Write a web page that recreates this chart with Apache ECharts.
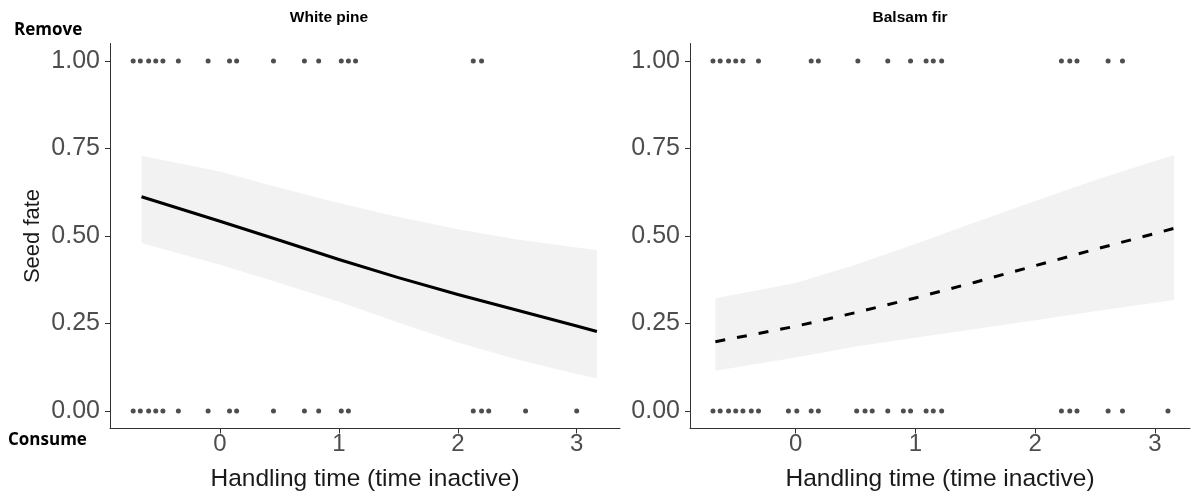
<!DOCTYPE html>
<html><head><meta charset="utf-8">
<script src="https://cdn.jsdelivr.net/npm/echarts@6/dist/echarts.min.js"></script>
<style>html,body{margin:0;padding:0;background:#fff}#c{width:1192px;height:497px}</style>
</head><body><div id="c"></div>
<script>
// ---- data ----
const panelTitles = ["White pine", "Balsam fir"];
const yTicks = [0, 0.25, 0.5, 0.75, 1];
const xTicks = [0, 1, 2, 3];

// White pine observations (x = handling time), fate 1 = remove, 0 = consume
const wpRemoveX = [-0.73, -0.67, -0.60, -0.54, -0.48, -0.35, -0.10, 0.08, 0.14, 0.45, 0.71, 0.83, 1.02, 1.08, 1.14, 2.13, 2.20];
const wpConsumeX = [-0.73, -0.67, -0.60, -0.54, -0.48, -0.35, -0.10, 0.08, 0.14, 0.45, 0.71, 0.83, 1.02, 1.08, 2.13, 2.20, 2.26, 2.57, 3.00];
// White pine fitted curve and confidence band
const wpCurveX = [-0.66, 0, 0.5, 1, 1.5, 2, 2.5, 3, 3.17];
const wpFit = [0.612, 0.542, 0.488, 0.433, 0.381, 0.333, 0.288, 0.243, 0.227];
const wpUpper = [0.729, 0.684, 0.638, 0.594, 0.554, 0.519, 0.490, 0.467, 0.460];
const wpLower = [0.480, 0.418, 0.366, 0.312, 0.253, 0.196, 0.147, 0.106, 0.093];

// Balsam fir observations
const bfRemoveX = [-0.69, -0.63, -0.56, -0.50, -0.44, -0.31, 0.13, 0.19, 0.52, 0.77, 0.96, 1.09, 1.15, 1.22, 2.22, 2.29, 2.35, 2.61, 2.73];
const bfConsumeX = [-0.69, -0.63, -0.56, -0.50, -0.44, -0.37, -0.31, -0.06, 0.01, 0.13, 0.19, 0.51, 0.58, 0.64, 0.77, 0.90, 0.96, 1.09, 1.15, 1.22, 2.22, 2.29, 2.35, 2.61, 2.73, 3.11];
const bfCurveX = [-0.67, 0, 0.5, 1, 1.5, 2, 2.5, 3, 3.16];
const bfFit = [0.198, 0.242, 0.281, 0.323, 0.368, 0.415, 0.462, 0.507, 0.522];
const bfUpper = [0.322, 0.366, 0.418, 0.477, 0.539, 0.600, 0.659, 0.714, 0.731];
const bfLower = [0.115, 0.153, 0.184, 0.209, 0.234, 0.259, 0.285, 0.309, 0.317];

// ---- build chart ----
const pts = (xs, y) => xs.map(x => [x, y]);
const zip = (xs, ys) => xs.map((x, i) => [x, ys[i]]);

const TICK_COLOR = '#4d4d4d';
const AXIS_COLOR = '#333333';
const FONT = '"Liberation Sans", Arial, sans-serif';
const LABEL_FONT = '"Open Sans", Lato, sans-serif';

function xAxis(gi, min, max) {
  return {
    type: 'value', gridIndex: gi, min: min, max: max,
    name: 'Handling time (time inactive)', nameLocation: 'middle', nameGap: 38,
    nameTextStyle: { fontFamily: FONT, fontSize: 24.5, color: '#1a1a1a' },
    axisLine: { onZero: false, lineStyle: { color: AXIS_COLOR, width: 1 } },
    axisTick: { length: 5, customValues: xTicks, lineStyle: { color: AXIS_COLOR } },
    axisLabel: { customValues: xTicks, fontFamily: FONT, fontSize: 24, color: TICK_COLOR, margin: 4 },
    splitLine: { show: false }
  };
}
function yAxis(gi, withName) {
  return {
    type: 'value', gridIndex: gi, min: -0.05, max: 1.05,
    name: withName ? 'Seed fate' : '', nameLocation: 'middle', nameGap: 66, nameRotate: 90,
    nameTextStyle: { fontFamily: FONT, fontSize: 22, color: '#1a1a1a' },
    axisLine: { onZero: false, lineStyle: { color: AXIS_COLOR, width: 1 } },
    axisTick: { length: 5, customValues: yTicks, lineStyle: { color: AXIS_COLOR } },
    axisLabel: { customValues: yTicks, fontFamily: FONT, fontSize: 25, color: TICK_COLOR, margin: 10,
      formatter: v => v.toFixed(2) },
    splitLine: { show: false }
  };
}

function bandSeries(gi, cx, lo, hi) {
  return {
    type: 'custom', xAxisIndex: gi, yAxisIndex: gi, silent: true, z: 1,
    data: zip(cx, lo),
    encode: { x: 0, y: 1 },
    renderItem: function (params, api) {
      if (params.dataIndex !== 0) return null;
      const poly = [];
      for (let i = 0; i < cx.length; i++) poly.push(api.coord([cx[i], hi[i]]));
      for (let i = cx.length - 1; i >= 0; i--) poly.push(api.coord([cx[i], lo[i]]));
      return { type: 'polygon', shape: { points: poly }, style: { fill: '#f2f2f2' } };
    }
  };
}

function panelSeries(gi, cx, lo, hi, fit, remX, conX, dashed) {
  return [
    bandSeries(gi, cx, lo, hi),
    { type: 'line', xAxisIndex: gi, yAxisIndex: gi, data: zip(cx, fit), smooth: false,
      symbol: 'none', lineStyle: { color: '#000', width: 3, type: dashed ? [10, 12] : 'solid', join: 'round' }, z: 3 },
    { type: 'scatter', xAxisIndex: gi, yAxisIndex: gi, data: pts(remX, 1), symbolSize: 5,
      itemStyle: { color: '#222' }, z: 4 },
    { type: 'scatter', xAxisIndex: gi, yAxisIndex: gi, data: pts(conX, 0), symbolSize: 5,
      itemStyle: { color: '#222' }, z: 4 }
  ];
}

const chart = echarts.init(document.getElementById('c'), null, { renderer: 'canvas' });
chart.setOption({
  animation: false,
  backgroundColor: '#fff',
  grid: [
    { left: 110, right: 572, top: 43.5, bottom: 68.5 },
    { left: 690, right: 2, top: 43.5, bottom: 68.5 }
  ],
  xAxis: [xAxis(0, -0.925, 3.364), xAxis(1, -0.882, 3.294)],
  yAxis: [yAxis(0, true), yAxis(1, false)],
  series: [].concat(
    panelSeries(0, wpCurveX, wpLower, wpUpper, wpFit, wpRemoveX, wpConsumeX, false),
    panelSeries(1, bfCurveX, bfLower, bfUpper, bfFit, bfRemoveX, bfConsumeX, true)
  ),
  graphic: [
    { type: 'text', style: { x: 329, y: 18, align: 'center', verticalAlign: 'middle', text: panelTitles[0], font: 'bold 15.5px ' + FONT, fill: '#000' } },
    { type: 'text', style: { x: 910, y: 18, align: 'center', verticalAlign: 'middle', text: panelTitles[1], font: 'bold 15.5px ' + FONT, fill: '#000' } },
    { type: 'text', style: { x: 14, y: 30, align: 'left', verticalAlign: 'middle', text: 'Remove', font: 'bold 17px ' + LABEL_FONT, fill: '#000' } },
    { type: 'text', style: { x: 8, y: 440, align: 'left', verticalAlign: 'middle', text: 'Consume', font: 'bold 17px ' + LABEL_FONT, fill: '#000' } }
  ]
});
</script></body></html>
